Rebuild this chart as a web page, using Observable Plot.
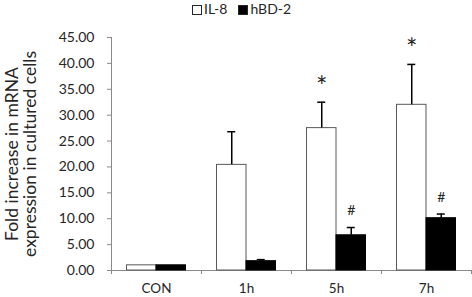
<!DOCTYPE html>
<html>
<head>
<meta charset="utf-8">
<script src="https://cdn.jsdelivr.net/npm/d3@7"></script>
<script src="https://cdn.jsdelivr.net/npm/@observablehq/plot@0.6"></script>
<style>
  html, body { margin: 0; padding: 0; background: #fff; }
  #wrap { position: relative; width: 472px; height: 297px; font-family: Lato, "Open Sans", sans-serif; }
  #legend { position: absolute; top: 0; left: 192px; font-size: 14px; color: #262626; display: flex; gap: 11px; line-height: 17px; }
  #legend span.sw { display: inline-block; width: 8px; height: 8px; border: 1px solid #262626; margin-right: 2px; vertical-align: -0.5px; }
</style>
</head>
<body>
<div id="wrap"><div id="legend"></div></div>
<script>
const categories = ["CON", "1h", "5h", "7h"];
const series = ["IL-8", "hBD-2"];
const seriesFill = ["#ffffff", "#000000"];
const il8 = [1.0, 20.4, 27.5, 32.0];
const il8Err = [0, 6.4, 5.0, 7.8];
const hbd2 = [1.0, 1.8, 6.8, 10.1];
const hbd2Err = [0, 0.3, 1.5, 0.8];
const il8Sig = ["", "", "*", "*"];
const hbd2Sig = ["", "", "#", "#"];
const yTicks = [0, 5, 10, 15, 20, 25, 30, 35, 40, 45];
const yTitle = "Fold increase in mRNA\nexpression in cultured cells";

const rows = categories.flatMap((c, i) => [
  {cat: c, series: series[0], value: il8[i], err: il8Err[i], sig: il8Sig[i]},
  {cat: c, series: series[1], value: hbd2[i], err: hbd2Err[i], sig: hbd2Sig[i]}
]);
const A = rows.filter(d => d.series === series[0]);
const B = rows.filter(d => d.series === series[1]);
const off = 14.75;
const axisGray = "#8a8a8a";

const chart = Plot.plot({
  width: 472,
  height: 297,
  marginLeft: 111,
  marginRight: 1,
  marginTop: 37,
  marginBottom: 27,
  style: {fontFamily: "Lato, 'Open Sans', sans-serif", color: "#262626", background: "transparent"},
  x: {domain: categories, padding: 0, axis: null},
  y: {domain: [0, 45], axis: null},
  marks: [
    Plot.ruleY([0], {stroke: axisGray}),
    Plot.ruleX([categories[0]], {y1: 0, y2: 45, dx: -45, stroke: axisGray}),
    Plot.axisY({ticks: yTicks, tickFormat: d3.format(".2f"), tickSize: 4, tickPadding: 13, stroke: axisGray, fill: "#262626", fontSize: 14, label: null}),
    Plot.axisX({tickSize: 0, tickPadding: 13, fill: "#262626", fontSize: 13.5, label: null}),
    Plot.axisX({tickSize: 4, tickFormat: () => "", dx: -45, stroke: axisGray, label: null}),
    Plot.axisX({ticks: [categories[categories.length - 1]], tickSize: 4, tickFormat: () => "", dx: 45, stroke: axisGray, label: null}),
    Plot.barY(A, {x: "cat", y: "value", fill: seriesFill[0], stroke: "#595959", insetLeft: 15.5, insetRight: 45}),
    Plot.barY(B, {x: "cat", y: "value", fill: seriesFill[1], stroke: "#000", insetLeft: 45, insetRight: 15.5}),
    Plot.ruleX(A.filter(d => d.err > 0), {x: "cat", y1: "value", y2: d => d.value + d.err, dx: -off, stroke: "#000", strokeWidth: 1.5}),
    Plot.tickY(A.filter(d => d.err > 0), {x: "cat", y: d => d.value + d.err, dx: -off, insetLeft: 41, insetRight: 41, stroke: "#000", strokeWidth: 1.5}),
    Plot.ruleX(B.filter(d => d.err > 0), {x: "cat", y1: "value", y2: d => d.value + d.err, dx: off, stroke: "#000", strokeWidth: 1.5}),
    Plot.tickY(B.filter(d => d.err > 0), {x: "cat", y: d => d.value + d.err, dx: off, insetLeft: 41, insetRight: 41, stroke: "#000", strokeWidth: 1.5}),
    Plot.text(A.filter(d => d.sig), {x: "cat", y: d => d.value + d.err, text: "sig", dx: -off, dy: -15, fontSize: 27, fill: "#262626"}),
    Plot.text(B.filter(d => d.sig), {x: "cat", y: d => d.value + d.err, text: "sig", dx: off, dy: -17, fontSize: 14, fill: "#262626"}),
    Plot.text([yTitle], {frameAnchor: "left", dx: -90, rotate: -90, textAnchor: "middle", lineAnchor: "middle", lineHeight: 1.0, fontSize: 17.5, fill: "#262626"})
  ]
});
document.getElementById("wrap").prepend(chart);

const legend = document.getElementById("legend");
series.forEach((s, i) => {
  const item = document.createElement("span");
  const sw = document.createElement("span");
  sw.className = "sw";
  sw.style.background = seriesFill[i];
  item.appendChild(sw);
  item.appendChild(document.createTextNode(s));
  legend.appendChild(item);
});
</script>
</body>
</html>
